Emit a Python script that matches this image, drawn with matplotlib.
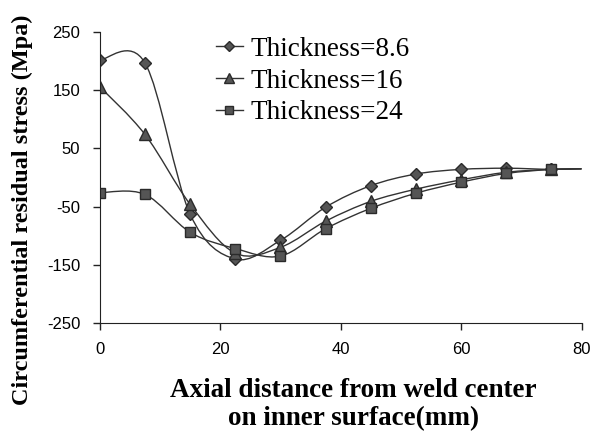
import matplotlib.pyplot as plt
import numpy as np
from matplotlib.path import Path
from matplotlib.patches import PathPatch

# Data
distance = [0, 7.5, 15, 22.5, 30, 37.5, 45, 52.5, 60, 67.5, 75, 80]
t_8_6 = [202, 197, -63, -140, -108, -51, -14, 6, 14, 16, 14, 15]
t_16 = [156, 74, -46, -130, -120, -75, -41, -20, -4, 9, 14, 15]
t_24 = [-26, -29, -94, -122, -135, -88, -53, -27, -8, 7, 14, 15]
x_ticks = [0, 20, 40, 60, 80]
y_ticks = [-250, -150, -50, 50, 150, 250]

plt.rcParams['font.family'] = ['Liberation Serif', 'DejaVu Sans']
plt.rcParams['axes.unicode_minus'] = False

fig = plt.figure(figsize=(5.94, 4.33), dpi=100)
ax = fig.add_axes([0.168, 0.254, 0.811, 0.672])


def smooth_path(x, y):
    # Excel-style smoothed line: cubic Bezier through the points
    pts = np.column_stack([x, y]).astype(float)
    n = len(pts)
    verts = [pts[0]]
    codes = [Path.MOVETO]
    for i in range(n - 1):
        p0 = pts[i - 1] if i > 0 else pts[i]
        p1 = pts[i]
        p2 = pts[i + 1]
        p3 = pts[i + 2] if i + 2 < n else pts[i + 1]
        verts += [p1 + (p2 - p0) / 6, p2 - (p3 - p1) / 6, p2]
        codes += [Path.CURVE4] * 3
    return Path(verts, codes)


series = [
    (t_8_6, 'D', 6, 'Thickness=8.6'),
    (t_16, '^', 8, 'Thickness=16'),
    (t_24, 's', 7.5, 'Thickness=24'),
]
n_marked = len(distance) - 1
for vals, mk, ms, lab in series:
    ax.add_patch(PathPatch(smooth_path(distance, vals), fill=False,
                           edgecolor='#333333', lw=1.0))
    ax.plot(distance[:n_marked], vals[:n_marked], linestyle='none', marker=mk,
            markersize=ms, markerfacecolor='#555555', markeredgecolor='#2a2a2a')
    ax.plot([], [], color='#333333', lw=1.0, marker=mk, markersize=ms * 0.85,
            markerfacecolor='#555555', markeredgecolor='#2a2a2a', label=lab)

ax.set_xlim(0, 80)
ax.set_ylim(-250, 250)
ax.set_xticks(x_ticks)
ax.set_yticks(y_ticks)
for lbl in ax.get_xticklabels() + ax.get_yticklabels():
    lbl.set_family('Liberation Sans')
    lbl.set_fontsize(12)
ax.tick_params(direction='out', length=5, width=1, color='#222222')
ax.tick_params(axis='y', pad=9)
ax.tick_params(axis='x', pad=9)
ax.spines['top'].set_visible(False)
ax.spines['right'].set_visible(False)
ax.spines['left'].set_color('#222222')
ax.spines['bottom'].set_color('#222222')

ax.set_xlabel('Axial distance from weld center\non inner surface(mm)',
              fontsize=19.5, fontweight='bold', linespacing=1.15)
ax.set_ylabel('Circumferential residual stress (Mpa)', fontsize=17.5,
              fontweight='bold')
ax.xaxis.set_label_coords(0.527, -0.19)
ax.yaxis.set_label_coords(-0.139, 0.39)

ax.legend(loc='upper left', bbox_to_anchor=(0.345, 0.94), bbox_transform=fig.transFigure,
          frameon=False, fontsize=19.5, handlelength=1.0, handletextpad=0.3,
          labelspacing=0.25, borderaxespad=0)

fig.savefig('out.png', dpi=100)
